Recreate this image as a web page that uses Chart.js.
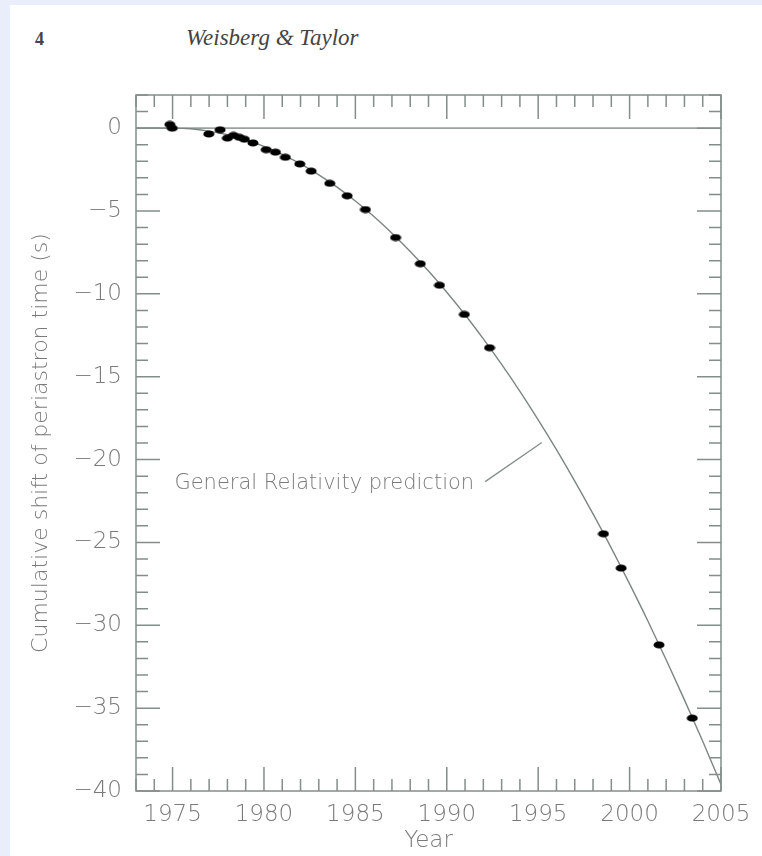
<!DOCTYPE html>
<html>
<head>
<meta charset="utf-8">
<title>Cumulative shift of periastron time</title>
<script src="https://cdn.jsdelivr.net/npm/chart.js@4.4.1/dist/chart.umd.min.js"></script>
<style>
  body { margin: 0; background: #e9eefa; }
  #page { position: absolute; left: 10px; top: 5px; width: 752px; height: 851px; background: #fff; }
  #folio { position: absolute; left: 25px; top: 25px; font: bold 18px "Liberation Serif", serif; line-height: 1; color: #444; }
  #head { position: absolute; left: 176px; top: 21px; font: italic 23px "Liberation Serif", serif; line-height: 1; color: #444; }
  #chart { position: absolute; left: 0; top: 0; }
</style>
</head>
<body>
<div id="page">
  <div id="folio">4</div>
  <div id="head">Weisberg &amp; Taylor</div>
  <canvas id="chart" width="752" height="851"></canvas>
</div>
<script>
// measured points (year, cumulative shift in s)
const obsYear = [1974.85, 1974.98, 1976.98, 1977.6, 1978.0, 1978.33, 1978.65, 1978.93, 1979.4,
  1980.12, 1980.63, 1981.17, 1981.96, 1982.58, 1983.6, 1984.55, 1985.55, 1987.2, 1988.55,
  1989.6, 1990.96, 1992.34, 1998.57, 1999.54, 2001.61, 2003.43];
const obsShift = [0.22, 0.0, -0.35, -0.1, -0.6, -0.44, -0.55, -0.67, -0.89,
  -1.3, -1.45, -1.76, -2.16, -2.59, -3.33, -4.08, -4.91, -6.6, -8.18,
  -9.48, -11.24, -13.25, -24.48, -26.55, -31.18, -35.6];

// general relativity prediction curve, read per year
const grYear = [1973, 1974, 1975, 1976, 1977, 1978, 1979, 1980, 1981, 1982, 1983, 1984, 1985,
  1986, 1987, 1988, 1989, 1990, 1991, 1992, 1993, 1994, 1995, 1996, 1997, 1998, 1999,
  2000, 2001, 2002, 2003, 2004, 2005];
const grShift = [0, 0, 0, -0.04, -0.18, -0.4, -0.7, -1.1, -1.58, -2.16, -2.82, -3.56, -4.4,
  -5.32, -6.34, -7.44, -8.62, -9.9, -11.26, -12.72, -14.26, -15.88, -17.6, -19.4, -21.3,
  -23.28, -25.34, -27.5, -29.74, -32.08, -34.5, -37.0, -39.6];

const zeroYear = [1973, 2005];
const zeroShift = [0, 0];

const xTicks = [1975, 1980, 1985, 1990, 1995, 2000, 2005];
const yTicks = [0, -5, -10, -15, -20, -25, -30, -35, -40];

const noteText = "General Relativity prediction";
const notePos = [1975.1, -21.45];
const noteLine = [[1992.1, -21.33], [1995.2, -18.97]];

const inkColor = "#858d8a";
const textColor = "#7a7a7a";
const fontFamily = '"DejaVu Sans", sans-serif';

// elliptical dot like the original
const dot = document.createElement("canvas");
dot.width = 12;
dot.height = 8;
const dc = dot.getContext("2d");
dc.fillStyle = "#000";
dc.beginPath();
dc.ellipse(6, 4, 5.5, 3.6, 0, 0, Math.PI * 2);
dc.fill();

const pairs = (xs, ys) => xs.map((x, i) => ({ x: x, y: ys[i] }));

// frame, inward ticks and the annotation
const framePlugin = {
  id: "frame",
  afterDraw(chart) {
    const ctx = chart.ctx;
    const a = chart.chartArea;
    const xs = chart.scales.x;
    const ys = chart.scales.y;
    ctx.save();
    ctx.strokeStyle = inkColor;
    ctx.lineWidth = 1.5;
    ctx.beginPath();
    for (let v = -40; v <= 2; v++) {
      const len = v % 5 === 0 ? 24 : 12;
      const py = ys.getPixelForValue(v);
      ctx.moveTo(a.left, py); ctx.lineTo(a.left + len, py);
      ctx.moveTo(a.right, py); ctx.lineTo(a.right - len, py);
    }
    for (let yr = 1973; yr <= 2005; yr++) {
      const len = yr % 5 === 0 ? 24 : 12;
      const px = xs.getPixelForValue(yr);
      ctx.moveTo(px, a.bottom); ctx.lineTo(px, a.bottom - len);
      ctx.moveTo(px, a.top); ctx.lineTo(px, a.top + len);
    }
    ctx.stroke();
    ctx.strokeRect(a.left, a.top, a.right - a.left, a.bottom - a.top);

    ctx.lineWidth = 1.3;
    ctx.beginPath();
    ctx.moveTo(xs.getPixelForValue(noteLine[0][0]), ys.getPixelForValue(noteLine[0][1]));
    ctx.lineTo(xs.getPixelForValue(noteLine[1][0]), ys.getPixelForValue(noteLine[1][1]));
    ctx.stroke();

    ctx.fillStyle = textColor;
    ctx.font = "200 21px " + fontFamily;
    ctx.textAlign = "left";
    ctx.textBaseline = "middle";
    ctx.fillText(noteText, xs.getPixelForValue(notePos[0]), ys.getPixelForValue(notePos[1]));
    ctx.restore();
  }
};

new Chart(document.getElementById("chart"), {
  type: "scatter",
  data: {
    datasets: [
      {
        label: "Observed",
        data: pairs(obsYear, obsShift),
        pointStyle: dot,
        pointRadius: 5,
        order: 0
      },
      {
        label: "General Relativity prediction",
        type: "line",
        data: pairs(grYear, grShift),
        borderColor: "#7d8582",
        borderWidth: 1.4,
        pointRadius: 0,
        cubicInterpolationMode: "monotone",
        order: 1
      },
      {
        label: "zero",
        type: "line",
        data: pairs(zeroYear, zeroShift),
        borderColor: "#9aa29f",
        borderWidth: 1.6,
        pointRadius: 0,
        order: 2
      }
    ]
  },
  options: {
    responsive: false,
    animation: false,
    layout: { padding: { top: 90, right: 41, left: 0, bottom: 0 } },
    plugins: { legend: { display: false }, tooltip: { enabled: false } },
    scales: {
      x: {
        type: "linear",
        min: 1973,
        max: 2005,
        afterBuildTicks: (s) => { s.ticks = xTicks.map((v) => ({ value: v })); },
        afterFit: (s) => { s.height = 65; },
        grid: { display: false, drawTicks: false },
        border: { display: false },
        ticks: {
          color: textColor,
          padding: 10,
          maxRotation: 0,
          autoSkip: false,
          font: { family: fontFamily, size: 23, weight: "200" },
          callback: (v) => String(v)
        },
        title: {
          display: true,
          text: "Year",
          color: textColor,
          padding: { top: 0, bottom: 1 },
          font: { family: fontFamily, size: 23, weight: "200" }
        }
      },
      y: {
        min: -40,
        max: 2,
        afterBuildTicks: (s) => { s.ticks = yTicks.map((v) => ({ value: v })); },
        afterFit: (s) => { s.width = 126; },
        grid: { display: false, drawTicks: false },
        border: { display: false },
        ticks: {
          color: textColor,
          padding: 14,
          autoSkip: false,
          font: { family: fontFamily, size: 23, weight: "200" },
          callback: (v) => (v < 0 ? "\u2212" + Math.abs(v) : String(v))
        },
        title: {
          display: true,
          text: "Cumulative shift of periastron time (s)",
          color: textColor,
          padding: { top: 18, bottom: 0 },
          font: { family: fontFamily, size: 22, weight: "200" }
        }
      }
    }
  },
  plugins: [framePlugin]
});
</script>
</body>
</html>
